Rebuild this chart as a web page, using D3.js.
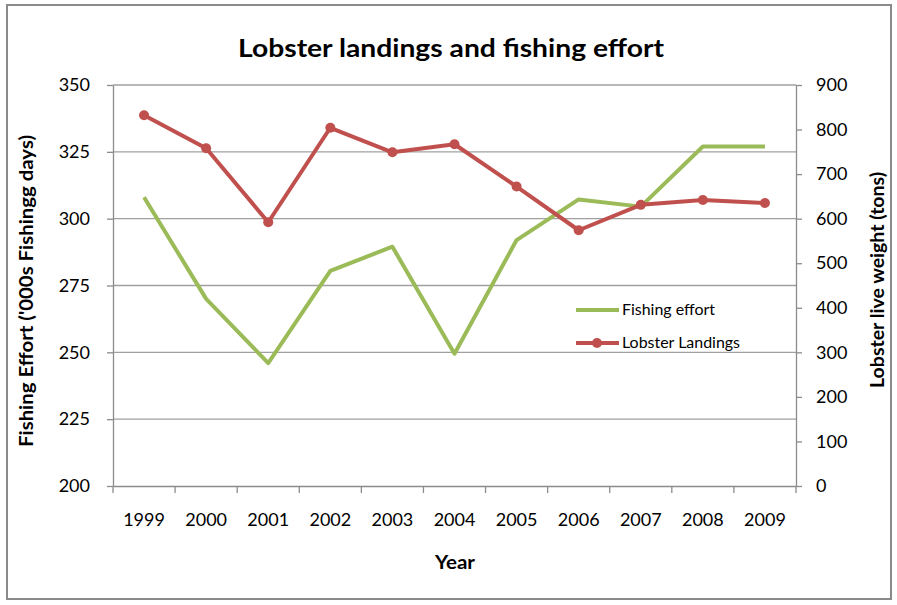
<!DOCTYPE html>
<html>
<head>
<meta charset="utf-8">
<script src="https://cdn.jsdelivr.net/npm/d3@7"></script>
<style>
  body { margin: 0; background: #fff; }
  text { font-family: Lato, "Open Sans", sans-serif; fill: #000; }
</style>
</head>
<body>
<div id="chart"></div>
<script>
// chart data
const years = ["1999", "2000", "2001", "2002", "2003", "2004", "2005", "2006", "2007", "2008", "2009"];
const effort = [308, 270, 246, 280.5, 289.5, 249.5, 292, 307.2, 304.5, 327, 327];
const landings = [832, 758, 592, 804, 749, 767, 672, 574, 631, 642, 635];
const leftTicks = [200, 225, 250, 275, 300, 325, 350];
const rightTicks = [0, 100, 200, 300, 400, 500, 600, 700, 800, 900];

const W = 897, H = 605;
const M = { top: 85, right: 101, bottom: 119, left: 113 };
const GREEN = "#9bbb59", RED = "#c0504d", GRID = "#a0a0a0", AXIS = "#8c8c8c";

const svg = d3.select("#chart").append("svg")
  .attr("width", W)
  .attr("height", H);

// outer frame
svg.append("rect")
  .attr("x", 7).attr("y", 5)
  .attr("width", 884).attr("height", 594)
  .attr("fill", "#fff")
  .attr("stroke", "#8a8a8a")
  .attr("stroke-width", 2);

const x = d3.scaleBand().domain(years).range([M.left, W - M.right]);
const yL = d3.scaleLinear().domain([200, 350]).range([H - M.bottom, M.top]);
const yR = d3.scaleLinear().domain([0, 900]).range([H - M.bottom, M.top]);

// gridlines
svg.append("g").selectAll("line")
  .data(leftTicks.slice(1))
  .enter().append("line")
  .attr("x1", M.left).attr("x2", W - M.right)
  .attr("y1", d => yL(d)).attr("y2", d => yL(d))
  .attr("stroke", GRID).attr("stroke-width", 1.3);

function styleAxis(g) {
  g.select(".domain").attr("stroke", AXIS).attr("stroke-width", 1.3);
  g.selectAll(".tick line").attr("stroke", AXIS).attr("stroke-width", 1.3);
  g.selectAll(".tick text")
    .style("font-family", "Lato, sans-serif")
    .style("font-size", "18px")
    .attr("fill", "#222");
}

// left axis
svg.append("g")
  .attr("transform", "translate(" + M.left + ",0)")
  .call(d3.axisLeft(yL).tickValues(leftTicks).tickSize(6).tickSizeOuter(0).tickPadding(17))
  .call(styleAxis);

// right axis
svg.append("g")
  .attr("transform", "translate(" + (W - M.right) + ",0)")
  .call(d3.axisRight(yR).tickValues(rightTicks).tickSize(6).tickSizeOuter(0).tickPadding(14))
  .call(styleAxis);

// bottom axis, ticks sit on band boundaries
const xAxis = svg.append("g")
  .attr("transform", "translate(0," + (H - M.bottom) + ")")
  .call(d3.axisBottom(x).tickSize(0).tickPadding(27))
  .call(styleAxis);

xAxis.selectAll(".edge")
  .data(d3.range(years.length + 1))
  .enter().append("line")
  .attr("x1", i => M.left + i * x.step())
  .attr("x2", i => M.left + i * x.step())
  .attr("y1", 0).attr("y2", 7)
  .attr("stroke", AXIS).attr("stroke-width", 1.3);

// lines
const cx = d => x(d) + x.bandwidth() / 2;

svg.append("path")
  .datum(effort)
  .attr("fill", "none")
  .attr("stroke", GREEN)
  .attr("stroke-width", 4)
  .attr("stroke-linejoin", "round")
  .attr("d", d3.line().x((d, i) => cx(years[i])).y(d => yL(d)));

svg.append("path")
  .datum(landings)
  .attr("fill", "none")
  .attr("stroke", RED)
  .attr("stroke-width", 4)
  .attr("stroke-linejoin", "round")
  .attr("d", d3.line().x((d, i) => cx(years[i])).y(d => yR(d)));

svg.append("g").selectAll("circle")
  .data(landings)
  .enter().append("circle")
  .attr("cx", (d, i) => cx(years[i]))
  .attr("cy", d => yR(d))
  .attr("r", 5)
  .attr("fill", RED);

// titles (textLength keeps the widths of the original)
svg.append("text")
  .attr("x", 451).attr("y", 57)
  .attr("text-anchor", "middle")
  .attr("textLength", 426)
  .attr("lengthAdjust", "spacingAndGlyphs")
  .style("font-size", "24px")
  .style("font-weight", "bold")
  .text("Lobster landings and fishing effort");

svg.append("text")
  .attr("x", 455).attr("y", 569)
  .attr("text-anchor", "middle")
  .attr("textLength", 40)
  .attr("lengthAdjust", "spacingAndGlyphs")
  .style("font-size", "19px")
  .style("font-weight", "bold")
  .text("Year");

svg.append("text")
  .attr("transform", "translate(33,291) rotate(-90)")
  .attr("text-anchor", "middle")
  .attr("textLength", 312)
  .attr("lengthAdjust", "spacingAndGlyphs")
  .style("font-size", "19px")
  .style("font-weight", "bold")
  .text("Fishing Effort ('000s Fishingg days)");

svg.append("text")
  .attr("transform", "translate(884,280) rotate(-90)")
  .attr("text-anchor", "middle")
  .attr("textLength", 216)
  .attr("lengthAdjust", "spacingAndGlyphs")
  .style("font-size", "19px")
  .style("font-weight", "bold")
  .text("Lobster live weight (tons)");

// legend
const legend = svg.append("g");
const items = [
  { name: "Fishing effort", color: GREEN, marker: false, y: 310, len: 93 },
  { name: "Lobster Landings", color: RED, marker: true, y: 343, len: 118 }
];
items.forEach(it => {
  legend.append("line")
    .attr("x1", 576).attr("x2", 619)
    .attr("y1", it.y).attr("y2", it.y)
    .attr("stroke", it.color).attr("stroke-width", 4);
  if (it.marker) {
    legend.append("circle")
      .attr("cx", 597).attr("cy", it.y).attr("r", 5)
      .attr("fill", it.color);
  }
  legend.append("text")
    .attr("x", 622).attr("y", it.y + 5)
    .attr("textLength", it.len)
    .attr("lengthAdjust", "spacingAndGlyphs")
    .style("font-size", "15.5px")
    .text(it.name);
});
</script>
</body>
</html>
